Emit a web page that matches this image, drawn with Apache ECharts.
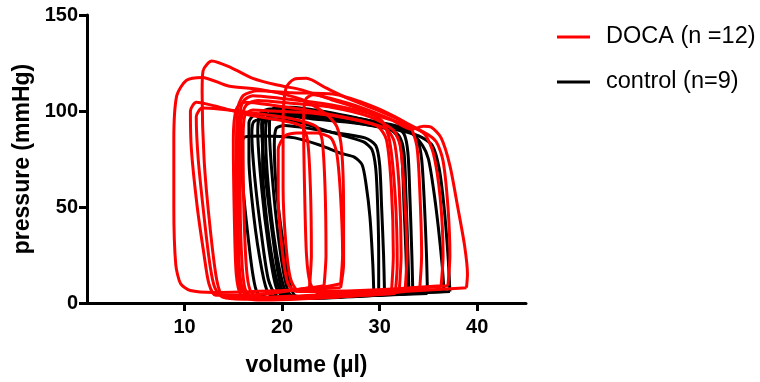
<!DOCTYPE html>
<html><head><meta charset="utf-8">
<script src="https://cdn.jsdelivr.net/npm/echarts@6/dist/echarts.min.js"></script>
<style>html,body{margin:0;padding:0;background:#fff}#c{width:760px;height:382px}</style>
</head><body><div id="c"></div>
<script>
// Tick labels
const volumeTicks = [10, 20, 30, 40];
const pressureTicks = [0, 50, 100, 150];
const docaName = 'DOCA (n =12)';
const controlName = 'control (n=9)';

// DOCA loops: [volume (µl), pressure (mmHg)]
const doca1 = [[26.0,8],[26.3,20],[26.3,50],[26.1,80],[25.6,92],[24.6,98],[22,106],[18,111],[14.5,113],[11.8,117.5],[10.2,116],[9.2,108],[8.9,85],[8.9,50],[9.1,20],[9.6,10],[10.6,6.5],[13,5.5],[20,6.5],[26.0,8]];
const doca2 = [[31.6,5],[31.8,20],[31.6,55],[31.0,85],[30.2,95],[28,101],[25,106],[22,111],[19.5,113.5],[17,117],[14.8,122.5],[12.8,126],[11.9,121],[11.8,110],[12.0,75],[12.6,40],[13.3,12],[14,3],[16,2],[24,3],[31.6,5]];
const doca3 = [[22.8,8],[23.0,25],[22.9,60],[22.6,85],[22,92],[20,95],[16.5,98],[13.1,102.6],[11.2,104.5],[10.6,100],[10.7,80],[11.3,50],[12,25],[12.5,10],[13.2,4],[16,4],[22.8,8]];
const doca4 = [[24.3,9],[24.5,25],[24.4,60],[24.1,85],[23.5,92],[21,96],[17,99],[13.5,101],[11.8,101.5],[11.2,97],[11.4,75],[12,45],[12.6,20],[13.1,8],[14,3],[18,4.5],[24.3,9]];
const doca5 = [[34.1,7],[34.3,25],[34.1,60],[33.8,82],[33.1,92],[31.4,97.5],[28.7,103.6],[25.2,108.8],[21,109.5],[17.5,110.5],[16.0,108],[15.4,100],[15.3,60],[15.4,25],[15.7,8],[16.8,3],[25,4.5],[34.1,7]];
const doca6 = [[37.0,9],[37.2,25],[37.0,50],[36.5,74],[35.8,84],[34.5,89],[32,94],[28,100],[24,104],[20,106.5],[17,108],[16.0,105],[15.6,95],[15.5,55],[15.6,20],[16,7],[17.5,2.5],[27,5],[37.0,9]];
const doca7 = [[32.6,6],[32.8,25],[32.5,60],[32.1,82],[31.4,90],[29,97],[25,102],[21,104],[17.5,105.5],[16.3,103],[15.8,95],[15.7,55],[15.9,20],[16.3,6],[17.5,2],[26,3.5],[32.6,6]];
const doca8 = [[32.0,6],[32.2,25],[32.0,60],[31.5,84],[30.6,91],[27,96],[23,100],[19,103],[16.2,104.5],[15.3,101],[15.0,85],[15.1,45],[15.3,15],[15.8,4],[17.5,1.5],[25,3],[32.0,6]];
const doca9 = [[26.0,10],[26.2,25],[26.0,55],[25.6,78],[25,86],[23.5,88.5],[21.5,88.5],[20.3,87],[19.6,80],[19.6,55],[20,28],[20.6,10],[21.5,6],[23.5,7.5],[26.0,10]];
const doca10 = [[36.3,9],[36.5,25],[36.2,55],[35.5,78],[34.6,88],[33,93],[30,100],[27,106],[24.5,112],[22.5,117],[21.2,116.5],[20.4,112],[20.1,95],[20.1,60],[20.4,30],[20.9,12],[21.8,6],[28,6.5],[36.3,9]];
const doca11 = [[38.9,8],[39.0,15],[38.7,30],[38.0,50],[37.2,71.6],[36.3,86],[35.3,91.5],[34.5,92],[33.3,90.5],[31,96],[28,102],[25,106.5],[23.2,108.5],[22.4,106],[22.2,95],[22.3,60],[22.5,25],[22.9,10],[23.8,5],[30,5.5],[38.9,8]];
const doca12 = [[31.2,5],[31.4,25],[31.2,60],[30.7,85],[29.8,92],[27,96],[23,99],[19,100],[17,100.5],[16.2,98],[16.0,85],[16.1,45],[16.4,15],[16.9,5],[18.5,2],[25,3],[31.2,5]];

// Control loops: [volume (µl), pressure (mmHg)]
const control1 = [[29.4,5],[29.3,20],[29.0,45],[28.6,62],[28.2,72],[27.4,76],[26,78],[24,82],[21.3,86],[18,87],[16.2,86.5],[15.8,82],[16.0,60],[16.5,35],[17.0,15],[17.5,5],[19,2.5],[24,3],[29.4,5]];
const control2 = [[29.9,5],[29.9,25],[29.8,50],[29.6,70],[29.2,80],[28.3,84],[25,89],[21.8,94],[18.5,96],[17.1,94.5],[16.9,88],[17.2,65],[17.9,35],[18.6,12],[19.4,4],[21,2.5],[26,3.5],[29.9,5]];
const control3 = [[32.8,5],[32.7,25],[32.5,50],[32.3,75],[32,85],[31.2,90],[28,93.5],[24,97.5],[21,99.5],[19,100.5],[18.2,99],[17.9,93],[18.2,70],[18.9,40],[19.6,15],[20.2,5],[22,3],[27,3.5],[32.8,5]];
const control4 = [[33.4,5],[33.3,25],[33.1,55],[32.9,78],[32.5,88],[31.5,92],[28,96],[24,100],[21,102],[19.4,102],[18.8,99.5],[18.7,90],[19.0,65],[19.6,35],[20.3,12],[20.9,4],[23,2.5],[28,3.5],[33.4,5]];
const control5 = [[36.6,6],[36.4,20],[36.0,40],[35.5,60],[35.0,75],[34.4,82],[33.1,89],[30,93],[26,96],[22,98],[19.8,99],[18.6,97.5],[18.3,88],[18.6,60],[19.3,30],[20.2,8],[21,3],[28,4],[36.6,6]];
const control6 = [[34.9,5],[34.8,25],[34.6,50],[34.3,75],[33.8,86],[32.6,91],[29,95],[25,98.5],[21,100.5],[18.8,101],[17.8,99],[17.5,90],[17.9,60],[18.6,30],[19.4,8],[20.3,3],[27,3.5],[34.9,5]];
const control7 = [[37.2,6],[37.0,25],[36.6,50],[36.1,70],[35.4,82],[34,87],[31,91],[27,94],[23,96],[20,97.5],[18.6,97],[18.0,92],[18.0,70],[18.5,40],[19.3,15],[20,5],[21.5,2.5],[29,4],[37.2,6]];
const control8 = [[33.0,5],[32.9,25],[32.7,55],[32.5,78],[32.0,87],[30.8,91],[27,94.5],[23,97],[19.5,98.5],[17.2,98],[16.6,94],[16.6,75],[17.1,45],[17.9,18],[18.6,5],[20,2.5],[26,3.5],[33.0,5]];
const control9 = [[30.5,5],[30.4,25],[30.2,50],[30.0,72],[29.6,82],[28.5,86],[25,89],[22,91.5],[20.3,92.5],[19.4,91],[19.2,82],[19.4,60],[20.0,35],[20.7,12],[21.3,4],[23,2.5],[27,3.5],[30.5,5]];

const docaLoops = [doca1, doca2, doca3, doca4, doca5, doca6, doca7, doca8, doca9, doca10, doca11, doca12];
const controlLoops = [control1, control2, control3, control4, control5, control6, control7, control8, control9];

const FONT = "'Liberation Sans', Arial, sans-serif";
function loopSeries(data, name, color) {
  return { type: 'line', name: name, data: data, showSymbol: false, smooth: 0.25,
    lineStyle: { color: color, width: 3 }, itemStyle: { color: color }, z: color === '#ff0000' ? 3 : 2,
    animation: false, emphasis: { disabled: true } };
}
const series = [];
controlLoops.forEach(d => series.push(loopSeries(d, controlName, '#000000')));
docaLoops.forEach(d => series.push(loopSeries(d, docaName, '#ff0000')));

const chart = echarts.init(document.getElementById('c'), null, { renderer: 'canvas' });
chart.setOption({
  animation: false,
  backgroundColor: '#ffffff',
  grid: { left: 87, right: 234, top: 15, bottom: 76 },
  legend: {
    left: 557, top: 25, orient: 'vertical', itemWidth: 33, itemHeight: 3, itemGap: 21,
    padding: 0, selectedMode: false,
    textStyle: { fontSize: 23.5, fontFamily: FONT, color: '#000', padding: [0, 0, 0, 11] },
    data: [{ name: docaName, icon: 'rect' }, { name: controlName, icon: 'rect' }]
  },
  xAxis: {
    type: 'value', min: 0, max: 45, interval: 10,
    axisLine: { show: true, lineStyle: { color: '#000', width: 3 } },
    axisTick: { show: true, length: 8, customValues: volumeTicks, lineStyle: { color: '#000', width: 3 } },
    axisLabel: { customValues: volumeTicks, color: '#000', fontWeight: 'bold', fontSize: 20, fontFamily: FONT, margin: 14 },
    splitLine: { show: false },
    name: 'volume (µl)', nameLocation: 'middle', nameGap: 51,
    nameTextStyle: { color: '#000', fontWeight: 'bold', fontSize: 23, fontFamily: FONT }
  },
  yAxis: {
    type: 'value', min: 0, max: 150, interval: 50,
    axisLine: { show: true, lineStyle: { color: '#000', width: 3 } },
    axisTick: { show: true, length: 8, customValues: pressureTicks, lineStyle: { color: '#000', width: 3 } },
    axisLabel: { customValues: pressureTicks, color: '#000', fontWeight: 'bold', fontSize: 20, fontFamily: FONT, margin: 9 },
    splitLine: { show: false },
    name: 'pressure (mmHg)', nameLocation: 'middle', nameGap: 52, nameRotate: 90,
    nameTextStyle: { color: '#000', fontWeight: 'bold', fontSize: 23, fontFamily: FONT }
  },
  series: series
});
</script></body></html>
